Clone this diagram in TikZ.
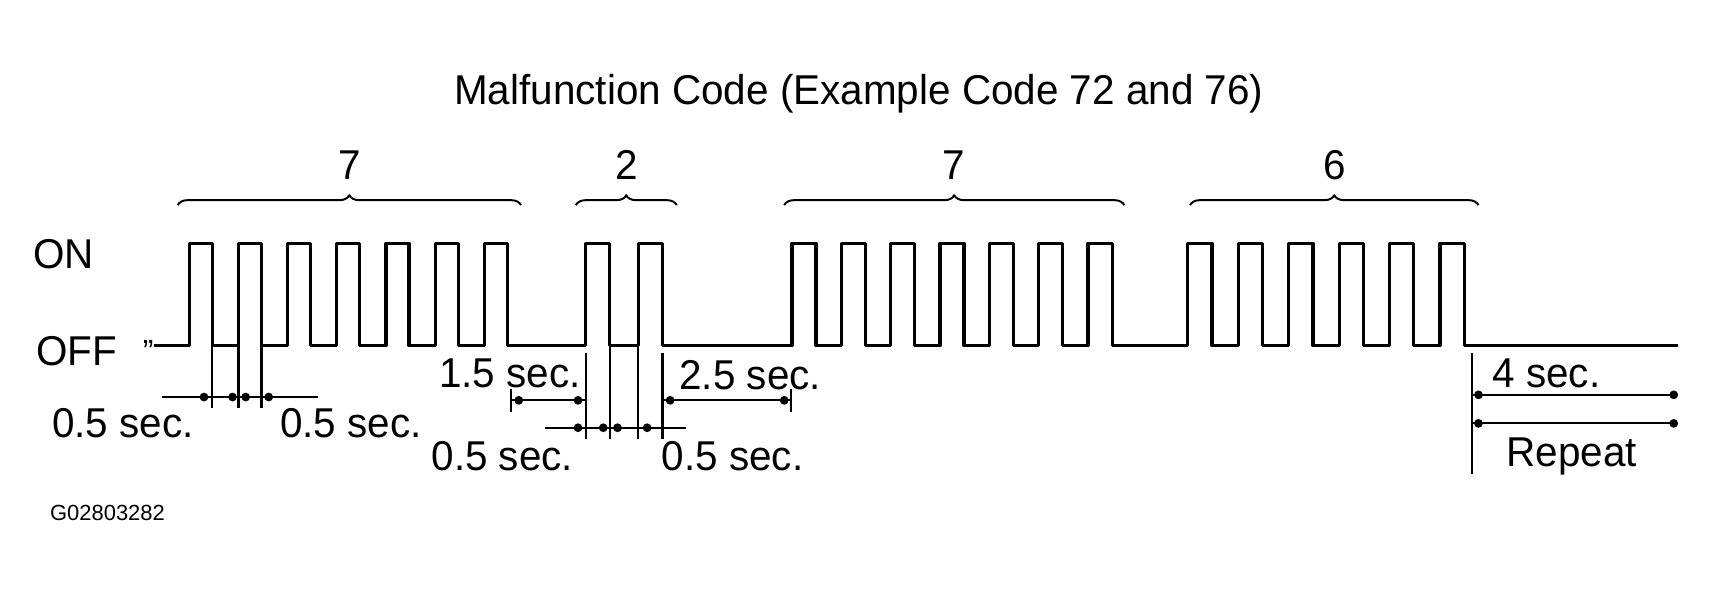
\documentclass[tikz,border=0pt]{standalone}
\usepackage{fontspec}
\setmainfont{Liberation Sans}
\usetikzlibrary{decorations.pathreplacing}
\begin{document}
\begin{tikzpicture}[x=1pt,y=-1pt,line width=3pt,line join=round,
  lbl/.style={inner sep=0pt,font=\fontsize{38}{38}\selectfont,xscale=0.97},
  dim/.style={line width=2pt},
  dot/.style={circle,fill,inner sep=0pt,minimum size=8pt},
  br/.style={decorate,decoration={brace,amplitude=9pt},line width=1.8pt}]
\useasboundingbox (0,0) rectangle (1560,543);
\node[lbl] (title) at (783,85) {Malfunction Code (Example Code 72 and 76)};
\node[lbl] (on) at (58,232) {ON};
\node[lbl] (off) at (70,320) {OFF};
\node[lbl] at (135,314) (sq) {\fontsize{30}{30}\selectfont ,,};
% signal
\draw (140,315) -- (172,315)
 \foreach \x in {172.5,217.5,262,307,352,397,442} { -- (\x,315) -- (\x,222) -- (\x+21,222) -- (\x+21,315)}
 \foreach \x in {534,582} { -- (\x,315) -- (\x,222) -- (\x+22,222) -- (\x+22,315)}
 \foreach \x in {722,767,812,857,902,947,992} { -- (\x,315) -- (\x,222) -- (\x+22,222) -- (\x+22,315)}
 \foreach \x in {1083,1129,1175,1221,1267,1313} { -- (\x,315) -- (\x,222) -- (\x+22,222) -- (\x+22,315)}
 -- (1530,315);
% braces
\draw[br] (162,187) -- (475,187) node[lbl,midway,above=22pt] (b1) {7};
\draw[br] (525,187) -- (617,187) node[lbl,midway,above=22pt] (b2) {2};
\draw[br] (715,187) -- (1025,187) node[lbl,midway,above=22pt] (b3) {7};
\draw[br] (1085,187) -- (1348,187) node[lbl,midway,above=22pt] (b4) {6};
% group 1 dims
\draw[dim] (193.5,315) -- (193.5,372) (217.5,315) -- (217.5,372) (238.5,315) -- (238.5,372);
\draw[dim] (148,362) -- (290,362);
\foreach \x in {186,212,224,245} \node[dot] at (\x,362) {};
\node[lbl] (l1) at (112,386) {0.5 sec.};
\node[lbl] (l2) at (320,386) {0.5 sec.};
% group 2 dims
\draw[dim] (534,322) -- (534,400) (556,315) -- (556,400) (582,315) -- (582,400) (604,322) -- (604,400);
\draw[dim] (497,390) -- (625,390);
\foreach \x in {527,550,563,590} \node[dot] at (\x,390) {};
\node[lbl] (l3) at (458,416) {0.5 sec.};
\node[lbl] (l4) at (668,416) {0.5 sec.};
\draw[dim] (466,355) -- (466,376) (466,365) -- (534,365);
\foreach \x in {473,527} \node[dot] at (\x,365) {};
\node[lbl] (l5) at (465,340) {1.5 sec.};
\draw[dim] (721,355) -- (721,376) (604,365) -- (721,365);
\foreach \x in {611,715} \node[dot] at (\x,365) {};
\node[lbl] (l6) at (684,342) {2.5 sec.};
% 4 sec
\draw[dim] (1342,322) -- (1342,432) (1342,360) -- (1528,360) (1342,386) -- (1528,386);
\foreach \x in {1348,1526} {\node[dot] at (\x,360) {}; \node[dot] at (\x,386) {};}
\node[lbl] (l7) at (1410,340) {4 sec.};
\node[lbl] (l8) at (1433,416) {Repeat};
\node[inner sep=0pt,font=\fontsize{20}{20}\selectfont] (id) at (98,468) {G02803282};
\end{tikzpicture}
\end{document}
